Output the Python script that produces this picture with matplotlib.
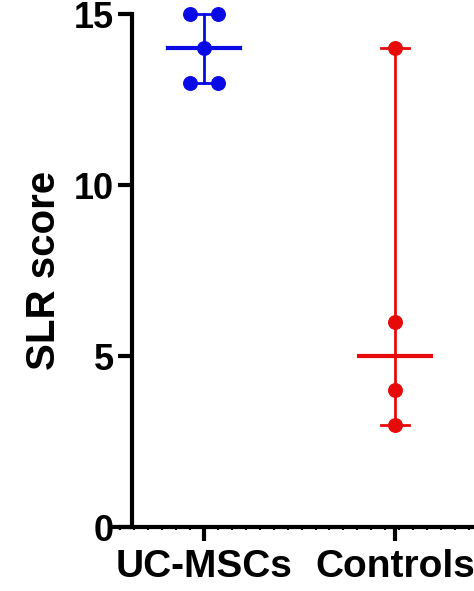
import matplotlib
matplotlib.use("Agg")
import matplotlib.pyplot as plt
import numpy as np
from matplotlib.ticker import MultipleLocator

groups = ["UC-MSCs", "Controls"]
colors = ["#0a0ae6", "#e60a0a"]
uc_vals = [15, 15, 14, 13, 13]
uc_offsets = [-0.073, 0.073, 0.0, -0.073, 0.073]
ctrl_vals = [14, 6, 4, 3]
ctrl_offsets = [0, 0, 0, 0]

fig = plt.figure(figsize=(4.74, 5.91), dpi=100)
ax = fig.add_axes([0.228, 0.108, 0.772, 0.868])
ax.set_xlim(-0.503, 1.414)
ax.set_ylim(0, 15)

for i, (vals, offs) in enumerate([(uc_vals, uc_offsets), (ctrl_vals, ctrl_offsets)]):
    c = colors[i]
    v = np.array(vals)
    med = np.median(v)
    lo, hi = v.min(), v.max()
    ax.plot([i, i], [lo, hi], color=c, lw=2, clip_on=False)
    for y in (lo, hi):
        ax.plot([i - 0.073, i + 0.073], [y, y], color=c, lw=2, clip_on=False)
    ax.plot([i - 0.19, i + 0.19], [med, med], color=c, lw=3, clip_on=False)
    ax.scatter(i + np.array(offs), v, s=95, color=c, zorder=3, clip_on=False)

ax.spines['top'].set_visible(False)
ax.spines['right'].set_visible(False)
ax.spines['bottom'].set_visible(False)
ax.plot([0, 1], [0, 0], transform=ax.transAxes, color='black', lw=3,
        clip_on=False, solid_capstyle='butt')
ax.spines['left'].set_position(('data', -0.377))
ax.spines['left'].set_linewidth(3)
ax.set_yticks([0, 5, 10, 15])
ax.set_xticks([0, 1])
ax.set_xticklabels(groups)
ax.xaxis.set_minor_locator(MultipleLocator(0.073))
ax.tick_params(axis='both', which='major', width=3, length=10, labelsize=26, pad=3)
ax.tick_params(axis='x', which='major', labelsize=28, pad=6)
ax.tick_params(axis='x', which='minor', width=1.5, length=2)
for lab in ax.get_xticklabels() + ax.get_yticklabels():
    lab.set_fontweight('bold')
    lab.set_family('Liberation Sans')
ax.set_ylabel("SLR score", fontsize=29, fontweight='bold', family='Liberation Sans', labelpad=8)
fig.savefig("out.png", dpi=100)
